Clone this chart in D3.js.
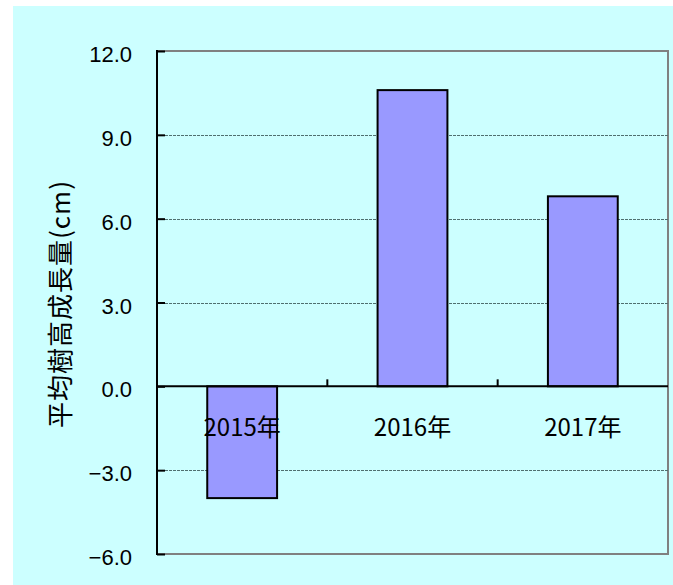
<!DOCTYPE html>
<html>
<head>
<meta charset="utf-8">
<script src="https://cdn.jsdelivr.net/npm/d3@7"></script>
<style>
  html, body { margin: 0; padding: 0; background: #fff; }
  svg { display: block; }
  text { font-family: "Noto Sans CJK JP", "Liberation Sans", sans-serif; fill: #000; }
</style>
</head>
<body>
<div id="chart"></div>
<script>
const categories = ["2015年", "2016年", "2017年"];
const growth = [-4.0, 10.6, 6.8];
const yTicks = [-6, -3, 0, 3, 6, 9, 12];
const yLabel = "平均樹高成長量(cm)";

const width = 673;
const height = 585;
const plot = {left: 157, right: 668, top: 51, bottom: 554};

const svg = d3.select("#chart").append("svg")
  .attr("width", width)
  .attr("height", height);

// chart area background
svg.append("rect")
  .attr("x", 13).attr("y", 6)
  .attr("width", width - 13).attr("height", height - 6)
  .attr("fill", "#ccffff");

const x = d3.scaleBand()
  .domain(categories)
  .range([plot.left, plot.right])
  .padding(0);

const y = d3.scaleLinear()
  .domain([-6, 12])
  .range([plot.bottom, plot.top]);

const barWidth = x.bandwidth() * 0.41;

// plot border (gray top/right/bottom)
svg.append("rect")
  .attr("x", plot.left).attr("y", plot.top)
  .attr("width", plot.right - plot.left).attr("height", plot.bottom - plot.top)
  .attr("fill", "none")
  .attr("stroke", "#808080")
  .attr("stroke-width", 2);

// gridlines
svg.append("g")
  .selectAll("line")
  .data(yTicks.filter((d) => d !== 0 && d !== -6 && d !== 12))
  .join("line")
  .attr("x1", plot.left).attr("x2", plot.right)
  .attr("y1", (d) => Math.round(y(d)) + 0.5)
  .attr("y2", (d) => Math.round(y(d)) + 0.5)
  .attr("stroke", "#4f6f6f")
  .attr("stroke-dasharray", "3,1")
  .attr("stroke-width", 1);

// bars
svg.append("g")
  .selectAll("rect")
  .data(categories.map((c, i) => ({cat: c, value: growth[i]})))
  .join("rect")
  .attr("x", (d) => x(d.cat) + (x.bandwidth() - barWidth) / 2)
  .attr("y", (d) => y(Math.max(0, d.value)))
  .attr("width", barWidth)
  .attr("height", (d) => Math.abs(y(d.value) - y(0)))
  .attr("fill", "#9999ff")
  .attr("stroke", "#000")
  .attr("stroke-width", 2);

// y axis (ticks pointing inward)
const yAxis = svg.append("g")
  .attr("transform", `translate(${plot.left},0)`)
  .call(d3.axisRight(y).tickValues(yTicks).tickSize(8).tickFormat(""));
yAxis.select(".domain").remove();
yAxis.selectAll(".tick line").attr("stroke", "#000").attr("stroke-width", 2);
svg.append("line")
  .attr("x1", plot.left).attr("x2", plot.left)
  .attr("y1", plot.top - 1).attr("y2", plot.bottom + 1)
  .attr("stroke", "#000").attr("stroke-width", 2);

// y tick labels
svg.append("g")
  .selectAll("text")
  .data(yTicks)
  .join("text")
  .attr("x", 132)
  .attr("y", (d) => y(d) + 11)
  .attr("text-anchor", "end")
  .attr("font-size", 22)
  .style("font-family", "'Liberation Sans', sans-serif")
  .text((d) => (d < 0 ? "\u2212" : "") + Math.abs(d).toFixed(1));

// category axis on zero line, ticks pointing up at band boundaries
const boundaries = categories.slice(1).map((c) => x(c));
svg.append("g")
  .selectAll("line")
  .data(boundaries)
  .join("line")
  .attr("x1", (d) => d).attr("x2", (d) => d)
  .attr("y1", y(0) - 7).attr("y2", y(0))
  .attr("stroke", "#000").attr("stroke-width", 2);
svg.append("line")
  .attr("x1", plot.left).attr("x2", plot.right)
  .attr("y1", y(0)).attr("y2", y(0))
  .attr("stroke", "#000").attr("stroke-width", 2);

// category labels
svg.append("g")
  .selectAll("text")
  .data(categories)
  .join("text")
  .attr("x", (d) => x(d) + x.bandwidth() / 2)
  .attr("y", 436)
  .attr("text-anchor", "middle")
  .attr("font-size", 24)
  .text((d) => d);

// y axis title
svg.append("text")
  .attr("transform", "translate(70,304) rotate(-90)")
  .attr("text-anchor", "middle")
  .attr("font-size", 26)
  .attr("letter-spacing", 1)
  .text(yLabel);
</script>
</body>
</html>
